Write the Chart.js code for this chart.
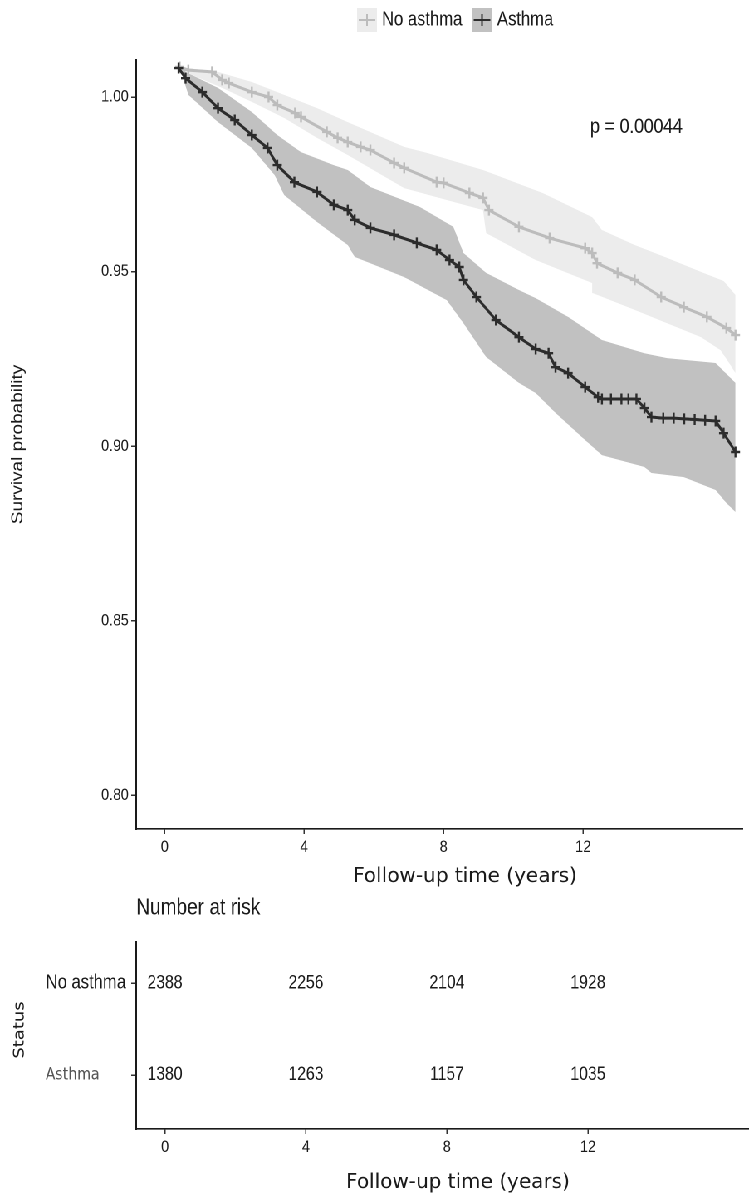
<!DOCTYPE html>
<html><head><meta charset="utf-8">
<script src="https://cdn.jsdelivr.net/npm/chart.js@4.4.1/dist/chart.umd.min.js"></script>
<style>
html,body{margin:0;padding:0;background:#fff;width:749px;height:1199px;overflow:hidden}
#wrap{position:absolute;left:0;top:0;width:902px;height:1199px;transform:scaleX(0.83037);transform-origin:0 0}
#c1{position:absolute;left:0;top:0}
#c2{position:absolute;left:0;top:895px}
</style></head>
<body><div id="wrap"><canvas id="c1" width="902" height="895"></canvas><canvas id="c2" width="902" height="304"></canvas></div>
<script>
// ---------------- data ----------------
const groups = ['No asthma', 'Asthma'];
const xTicks = [0, 4, 8, 12];
const yTicks = [0.80, 0.85, 0.90, 0.95, 1.00];
const pValueLabel = 'p = 0.00044';
const xTitle = 'Follow-up time (years)';
const yTitle = 'Survival probability';
const tableTitle = 'Number at risk';
const tableYTitle = 'Status';

const timeNoAsthma = [0.43,0.68,1.36,1.65,1.84,2.50,2.98,3.23,3.74,3.91,4.65,4.96,5.25,5.62,5.90,6.58,6.87,7.80,8.00,8.74,9.13,9.30,10.16,11.04,12.06,12.26,12.40,12.99,13.48,14.24,14.89,15.55,16.11,16.37];
const survNoAsthma = [1.0086,1.0077,1.0072,1.0049,1.0040,1.0014,1.0000,0.9977,0.9954,0.9943,0.9900,0.9883,0.9871,0.9857,0.9848,0.9811,0.9797,0.9756,0.9754,0.9725,0.9711,0.9676,0.9628,0.9596,0.9567,0.9553,0.9524,0.9496,0.9476,0.9427,0.9398,0.9370,0.9338,0.9318];

const timeAsthma = [0.40,0.60,1.08,1.53,2.01,2.50,2.95,3.23,3.72,4.37,4.85,5.25,5.45,5.90,6.58,7.23,7.80,8.17,8.45,8.57,8.94,9.50,10.16,10.64,11.01,11.21,11.57,12.06,12.43,12.54,12.80,13.10,13.30,13.53,13.76,13.96,14.30,14.60,14.90,15.20,15.50,15.80,16.03,16.37];
const survAsthma = [1.0083,1.0054,1.0014,0.9968,0.9934,0.9891,0.9854,0.9805,0.9756,0.9728,0.9691,0.9676,0.9648,0.9625,0.9605,0.9582,0.9562,0.9533,0.9513,0.9476,0.9427,0.9361,0.9312,0.9278,0.9266,0.9226,0.9209,0.9169,0.9140,0.9135,0.9135,0.9135,0.9135,0.9135,0.9109,0.9083,0.9080,0.9080,0.9078,0.9076,0.9074,0.9072,0.9037,0.8983];

const ciNoAsthmaUpperT = [0.43,1.53,2.50,3.43,4.37,5.25,6.87,7.52,9.13,10.84,12.26,12.54,13.48,14.41,15.38,16.03,16.37];
const ciNoAsthmaUpperS = [1.0086,1.0072,1.0043,1.0006,0.9968,0.9928,0.9857,0.9840,0.9791,0.9725,0.9656,0.9619,0.9576,0.9539,0.9499,0.9473,0.9433];
const ciNoAsthmaLowerT = [0.43,0.79,1.65,2.50,3.43,4.37,5.25,6.87,9.13,9.22,10.64,12.26,12.28,13.48,14.41,15.38,15.94,16.17,16.37];
const ciNoAsthmaLowerS = [1.0086,1.0063,1.0026,0.9986,0.9940,0.9883,0.9834,0.9739,0.9676,0.9610,0.9533,0.9467,0.9438,0.9390,0.9352,0.9312,0.9275,0.9241,0.9209];

const ciAsthmaUpperT = [0.43,0.60,1.53,2.50,3.23,3.91,4.85,5.25,5.90,7.32,8.28,8.57,9.22,10.16,10.64,11.57,12.54,13.76,14.41,15.80,16.37];
const ciAsthmaUpperS = [1.0086,1.0072,1.0026,0.9957,0.9891,0.9842,0.9805,0.9791,0.9742,0.9685,0.9628,0.9553,0.9496,0.9447,0.9424,0.9370,0.9304,0.9266,0.9252,0.9238,0.9181];
const ciAsthmaLowerT = [0.43,0.68,1.53,2.50,3.15,3.43,4.37,5.25,5.45,6.87,8.09,8.57,9.22,10.16,10.64,11.21,12.06,12.54,13.76,13.96,14.89,15.80,16.11,16.37];
const ciAsthmaLowerS = [1.0086,1.0006,0.9928,0.9854,0.9777,0.9719,0.9642,0.9576,0.9542,0.9484,0.9418,0.9352,0.9255,0.9181,0.9152,0.9095,0.9017,0.8974,0.8940,0.8923,0.8911,0.8874,0.8837,0.8811];

const riskTimes = [0, 4, 8, 12];
const riskNoAsthma = [2388, 2256, 2104, 1928];
const riskAsthma = [1380, 1263, 1157, 1035];

// ---------------- styling / layout ----------------
const SX = 749 / 902;
const X_MIN = -0.817, X_MAX = 16.57;
const Y_MIN = 0.7903, Y_MAX = 1.0106;
const P_POS = { t: 12.2, s: 0.9914 };
const C = {
  lightBand: '#ececec', darkBand: '#c1c1c1',
  lightLine: '#bcbcbc', darkLine: '#2c2c2c',
  text: '#1a1a1a', axis: '#1a1a1a'
};
const SANS = '"Liberation Sans", Arial, sans-serif';
const DEJA = '"DejaVu Sans", sans-serif';

const pts = (t, s) => t.map((v, i) => ({ x: v, y: s[i] }));

const band = (t, s, color, fill) => ({
  data: pts(t, s), borderWidth: 0, borderColor: 'rgba(0,0,0,0)', backgroundColor: color,
  pointRadius: 0, fill: fill, tension: 0, clip: false
});
const curve = (t, s, color, label) => ({
  label, data: pts(t, s), borderColor: color, borderWidth: 3, backgroundColor: color,
  pointStyle: 'cross', pointRadius: 5.5, pointBorderWidth: 2.4, pointBorderColor: color,
  fill: false, tension: 0, clip: false
});

const xScaleCommon = (fitHeight) => ({
  type: 'linear', min: X_MIN, max: X_MAX,
  afterBuildTicks: s => { s.ticks = xTicks.map(v => ({ value: v })); },
  ticks: { font: { family: SANS, size: 17 }, color: C.text, padding: 3, maxRotation: 0, autoSkip: false,
           callback: v => String(v) },
  grid: { display: true, drawOnChartArea: false, drawTicks: true, tickLength: 5, color: '#333', lineWidth: 1.5 },
  border: { display: true, color: C.axis, width: 1.6 },
  afterFit: s => { s.height = fitHeight; }
});

// ---------------- main survival chart ----------------
const mainDecor = {
  id: 'mainDecor',
  afterDraw(chart) {
    const { ctx, chartArea, scales: { x, y } } = chart;
    ctx.save();
    ctx.fillStyle = C.text;
    ctx.font = '21px ' + SANS; ctx.textAlign = 'left'; ctx.textBaseline = 'middle';
    ctx.fillText(pValueLabel, x.getPixelForValue(P_POS.t), y.getPixelForValue(P_POS.s));
    ctx.save();
    ctx.translate(21.7, (chartArea.top + chartArea.bottom) / 2);
    ctx.rotate(-Math.PI / 2);
    ctx.font = '19px ' + SANS; ctx.textAlign = 'center'; ctx.textBaseline = 'middle';
    ctx.fillText(yTitle, 0, 0);
    ctx.restore();
    ctx.save();
    ctx.translate(560, 877); ctx.scale(1 / SX, 1);
    ctx.font = '20px ' + DEJA; ctx.textAlign = 'center'; ctx.textBaseline = 'middle';
    ctx.fillText(xTitle, 0, 0);
    ctx.restore();
    const keys = [
      { x: 430, fill: C.lightBand, line: C.lightLine },
      { x: 568.5, fill: C.darkBand, line: C.darkLine }
    ];
    keys.forEach((k, i) => {
      ctx.fillStyle = k.fill; ctx.fillRect(k.x, 8, 24, 24);
      ctx.strokeStyle = k.line; ctx.lineWidth = 2;
      ctx.beginPath(); ctx.moveTo(k.x + 2, 20); ctx.lineTo(k.x + 22, 20);
      ctx.moveTo(k.x + 12, 14); ctx.lineTo(k.x + 12, 26); ctx.stroke();
      ctx.fillStyle = C.text; ctx.font = '20px ' + SANS; ctx.textAlign = 'left'; ctx.textBaseline = 'middle';
      ctx.fillText(groups[i], k.x + 30, 20);
    });
    ctx.restore();
  }
};

new Chart(document.getElementById('c1'), {
  type: 'line',
  data: {
    datasets: [
      curve(timeAsthma, survAsthma, C.darkLine, groups[1]),
      curve(timeNoAsthma, survNoAsthma, C.lightLine, groups[0]),
      band(ciAsthmaUpperT, ciAsthmaUpperS, C.darkBand, '+1'),
      band(ciAsthmaLowerT, ciAsthmaLowerS, C.darkBand, false),
      band(ciNoAsthmaUpperT, ciNoAsthmaUpperS, C.lightBand, '+1'),
      band(ciNoAsthmaLowerT, ciNoAsthmaLowerS, C.lightBand, false)
    ]
  },
  options: {
    responsive: false, animation: false, events: [], devicePixelRatio: 2,
    layout: { padding: { top: 60, left: 0, right: 0, bottom: 0 } },
    plugins: { legend: { display: false }, tooltip: { enabled: false }, title: { display: false } },
    scales: {
      x: xScaleCommon(66),
      y: {
        type: 'linear', min: Y_MIN, max: Y_MAX,
        afterBuildTicks: s => { s.ticks = yTicks.map(v => ({ value: v })); },
        ticks: { font: { family: SANS, size: 17 }, color: C.text, padding: 3, crossAlign: 'near',
                 callback: v => Number(v).toFixed(2) },
        grid: { display: true, drawOnChartArea: false, drawTicks: true, tickLength: 6, color: '#333', lineWidth: 1.5 },
        border: { display: true, color: C.axis, width: 2 },
        afterFit: s => { s.width = 164; }
      }
    }
  },
  plugins: [mainDecor]
});

// ---------------- risk table ----------------
const tableDecor = {
  id: 'tableDecor',
  afterDatasetsDraw(chart) {
    const { ctx, chartArea } = chart;
    ctx.save();
    ctx.fillStyle = C.text;
    ctx.font = '19px ' + SANS; ctx.textAlign = 'center'; ctx.textBaseline = 'middle';
    chart.data.datasets.forEach((ds, di) => {
      const meta = chart.getDatasetMeta(di);
      meta.data.forEach((el, i) => ctx.fillText(String(ds.counts[i]), el.x, el.y));
    });
    ctx.font = '23px ' + SANS; ctx.textAlign = 'left';
    ctx.fillText(tableTitle, chartArea.left, 13);
    ctx.save();
    ctx.translate(24, 135); ctx.rotate(-Math.PI / 2);
    ctx.font = '18px ' + DEJA; ctx.textAlign = 'center'; ctx.textBaseline = 'middle';
    ctx.fillText(tableYTitle, 0, 0);
    ctx.restore();
    ctx.save();
    ctx.translate(551.5, 288); ctx.scale(1 / SX, 1);
    ctx.font = '20px ' + DEJA; ctx.textAlign = 'center'; ctx.textBaseline = 'middle';
    ctx.fillText(xTitle, 0, 0);
    ctx.restore();
    ctx.restore();
  }
};

new Chart(document.getElementById('c2'), {
  type: 'scatter',
  data: {
    datasets: [
      { label: groups[0], counts: riskNoAsthma, data: riskTimes.map(t => ({ x: t, y: 2 })), pointRadius: 0, showLine: false },
      { label: groups[1], counts: riskAsthma, data: riskTimes.map(t => ({ x: t, y: 1 })), pointRadius: 0, showLine: false }
    ]
  },
  options: {
    responsive: false, animation: false, events: [], devicePixelRatio: 2,
    layout: { padding: { top: 47, left: 55, right: 0, bottom: 0 } },
    plugins: { legend: { display: false }, tooltip: { enabled: false } },
    scales: {
      x: xScaleCommon(70),
      y: {
        type: 'linear', min: 0.413, max: 2.446,
        afterBuildTicks: s => { s.ticks = [{ value: 1 }, { value: 2 }]; },
        ticks: {
          crossAlign: 'far', padding: 3,
          callback: v => (v === 2 ? groups[0] : groups[1]),
          font: c => (c.tick && c.tick.value === 1 ? { family: DEJA, size: 17 } : { family: SANS, size: 20 }),
          color: c => (c.tick && c.tick.value === 1 ? '#555' : C.text)
        },
        grid: { display: true, drawOnChartArea: false, drawTicks: true, tickLength: 6, color: '#333', lineWidth: 1.5 },
        border: { display: true, color: C.axis, width: 2 },
        afterFit: s => { s.width = 109; }
      }
    }
  },
  plugins: [tableDecor]
});
</script>
</body></html>
